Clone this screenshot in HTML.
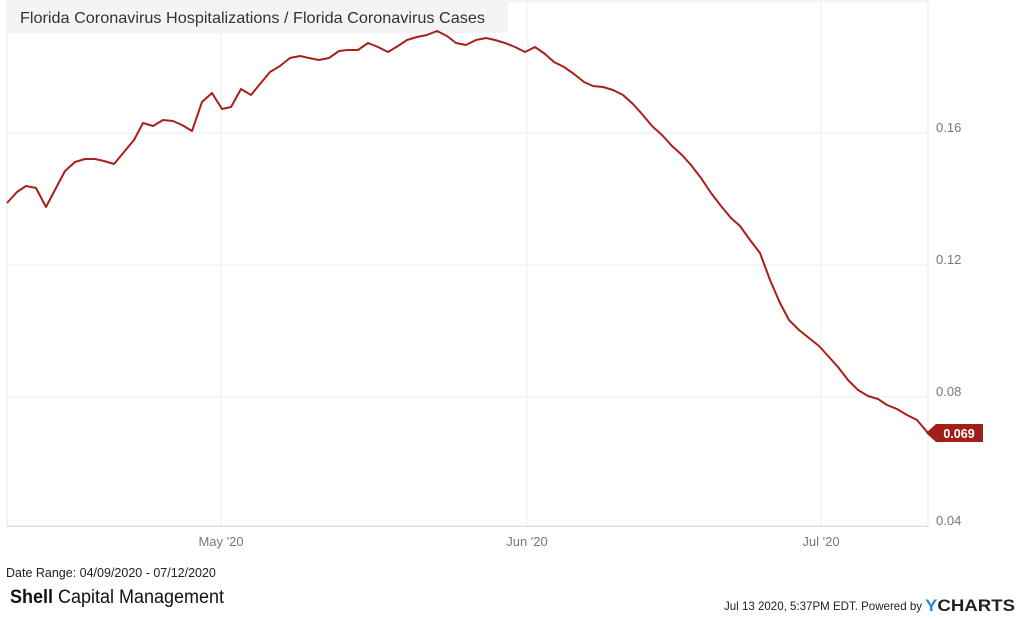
<!DOCTYPE html>
<html><head><meta charset="utf-8"><style>
body{margin:0;background:#fff;width:1024px;height:615px;overflow:hidden;font-family:"Liberation Sans",sans-serif;}
</style></head><body>
<svg width="1024" height="615" xmlns="http://www.w3.org/2000/svg" font-family="Liberation Sans, sans-serif">
<rect x="7" y="1" width="921" height="525" fill="#fff" stroke="#e8e8e8" stroke-width="1"/>
<g stroke="#ededed" stroke-width="1">
<line x1="7" y1="133" x2="928" y2="133"/>
<line x1="7" y1="265" x2="928" y2="265"/>
<line x1="7" y1="397" x2="928" y2="397"/>
<line x1="221" y1="1" x2="221" y2="526"/>
<line x1="527" y1="1" x2="527" y2="526"/>
<line x1="821" y1="1" x2="821" y2="526"/>
</g>
<line x1="7" y1="526.5" x2="928" y2="526.5" stroke="#ddd"/>
<rect x="7" y="2" width="501" height="31" fill="#f4f4f4"/>
<text x="20" y="23" font-size="16" fill="#333" textLength="465" lengthAdjust="spacingAndGlyphs">Florida Coronavirus Hospitalizations / Florida Coronavirus Cases</text>
<polyline fill="none" stroke="#a8201a" stroke-width="2" stroke-linejoin="round" points="7,203 17,192 26,186 36,188 46,207 56,188 65,171 75,162 85,159 95,159 104,161 114,164 124,152 134,140 143,123 153,126 163,120 173,121 182,125 192,131 202,102 212,93 222,109 231,107 241,89 251,95 260,84 270,72 280,66 290,58 300,56 309,58 319,60 329,58 339,51 348,50 358,50 368,43 378,47 388,52 398,46 407,40 417,37 427,35 437,31 447,36 456,43 466,45 476,40 486,38 495,40 505,43 515,47 525,52 535,47 545,54 554,62 564,67 574,74 584,82 593,86 603,87 613,90 623,95 633,104 642,114 652,126 662,135 672,146 682,155 691,165 701,178 711,193 721,206 731,218 740,226 750,240 760,253 770,280 780,303 789,320 799,330 809,338 819,346 829,357 838,367 848,380 858,390 868,396 878,399 887,405 897,409 907,415 917,420 928,433"/>
<g font-size="13" fill="#777">
<text x="936" y="132">0.16</text>
<text x="936" y="264">0.12</text>
<text x="936" y="396">0.08</text>
<text x="936" y="525">0.04</text>
<text x="221" y="546" text-anchor="middle">May '20</text>
<text x="527" y="546" text-anchor="middle">Jun '20</text>
<text x="821" y="546" text-anchor="middle">Jul '20</text>
</g>
<polygon points="926,433 936,424 983,424 983,442 936,442" fill="#a11e1a"/>
<text x="959" y="438" font-size="12.5" font-weight="bold" fill="#fff" text-anchor="middle">0.069</text>
<text x="6" y="577" font-size="12.5" fill="#222">Date Range: 04/09/2020 - 07/12/2020</text>
<text x="10" y="603" font-size="19" fill="#111" textLength="214" lengthAdjust="spacingAndGlyphs"><tspan font-weight="bold">Shell</tspan> Capital Management</text>
<text x="724" y="610" font-size="12" fill="#222" textLength="198" lengthAdjust="spacingAndGlyphs">Jul 13 2020, 5:37PM EDT. Powered by</text>
<text x="925" y="611" font-size="17" font-weight="bold" fill="#222" textLength="90" lengthAdjust="spacingAndGlyphs"><tspan fill="#2a8be0">Y</tspan>CHARTS</text>
</svg>
</body></html>
